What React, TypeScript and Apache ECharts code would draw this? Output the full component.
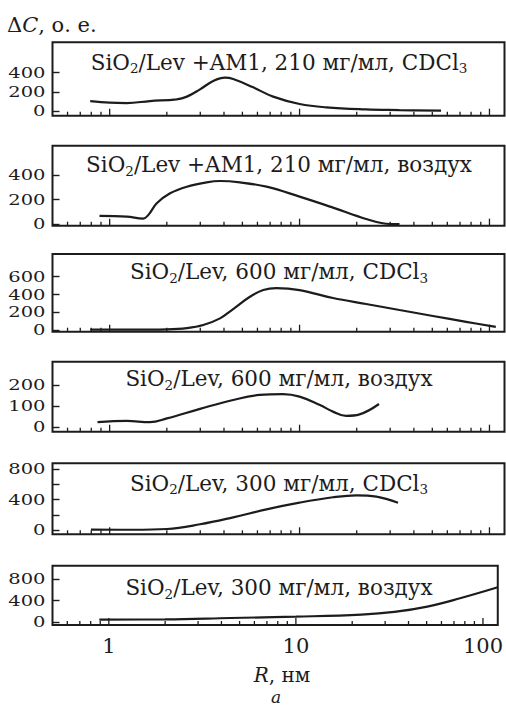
import React, { useEffect, useRef } from "react";
import * as echarts from "echarts";

// ---- data (R in nm, ΔC in a.u.) ----
const R1 = [0.79, 1.0, 1.23, 1.63, 2.25, 2.55, 2.99, 3.51, 4.05, 4.47, 5.7, 7.26, 10.0, 13.8, 22.4, 33.6, 55.6];
const C1 = [104, 87, 83, 104, 122, 150, 226, 313, 348, 334, 247, 150, 73, 38, 17, 10, 3];

const R2 = [0.884, 1.23, 1.5, 1.6, 1.77, 2.08, 2.55, 3.24, 3.81, 4.85, 6.7, 10, 15, 22.4, 27.4, 33.6];
const C2 = [68, 62, 46, 76, 170, 251, 305, 340, 351, 340, 305, 224, 135, 43, 8, 0];

const R3 = [0.79, 1.33, 2.0, 2.55, 3.11, 3.81, 4.47, 5.48, 6.44, 7.54, 10, 15, 22.4, 33.6, 50.4, 75.4, 108];
const C3 = [5, 4, 8, 22, 56, 131, 236, 375, 450, 472, 450, 360, 293, 225, 158, 92, 35];

const R4 = [0.863, 1.23, 1.63, 2.0, 2.99, 4.47, 6.17, 8.19, 10, 12.8, 15.0, 17.6, 20.7, 26.2];
const C4 = [24, 30, 24, 42, 87, 129, 153, 157, 145, 105, 74, 54, 61, 110];

const R5 = [0.797, 1.33, 2.0, 2.99, 4.47, 6.7, 10, 15, 19.9, 25.4, 33.0];
const C5 = [5, 3, 13, 75, 167, 272, 360, 431, 457, 440, 360];

const R6 = [0.89, 2.0, 4.47, 10, 22.4, 33.6, 50.4, 75.4, 120];
const C6 = [44, 50, 75, 100, 138, 188, 288, 444, 650];

const TITLES = [
  "SiO{s|2}/Lev +AM1, 210 мг/мл, CDCl{s|3}",
  "SiO{s|2}/Lev +AM1, 210 мг/мл, воздух",
  "SiO{s|2}/Lev, 600 мг/мл, CDCl{s|3}",
  "SiO{s|2}/Lev, 600 мг/мл, воздух",
  "SiO{s|2}/Lev, 300 мг/мл, CDCl{s|3}",
  "SiO{s|2}/Lev, 300 мг/мл, воздух",
];

const Y_TICKS = [
  [0, 200, 400],
  [0, 200, 400],
  [0, 200, 400, 600],
  [0, 100, 200],
  [0, 200, 400, 600, 800],
  [0, 400, 800],
];
const Y_LABELS = [
  [0, 200, 400],
  [0, 200, 400],
  [0, 200, 400, 600],
  [0, 100, 200],
  [0, 400, 800],
  [0, 400, 800],
];
const Y_MIN = [-49, -12, -19, -21, -57, -56];
const Y_MAX = [717, 638, 856, 310, 879, 1054];

const X_MIN = 0.5;
const X_MAX = 120;
const X_MAJOR = [1, 10, 100];
const X_TICKS = [
  0.6, 0.7, 0.8, 0.9, 1, 2, 3, 4, 5, 6, 7, 8, 9, 10, 20, 30, 40, 50, 60, 70, 80, 90, 100,
];

const SERIES_R = [R1, R2, R3, R4, R5, R6];
const SERIES_C = [C1, C2, C3, C4, C5, C6];

// ---- layout ----
const LAYOUT = [
  { top: 42.3, height: 73.4, titleY: 62 },
  { top: 145.7, height: 80, titleY: 164.5 },
  { top: 254, height: 77.7, titleY: 271.5 },
  { top: 361.7, height: 70, titleY: 378.5 },
  { top: 463.3, height: 71, titleY: 483 },
  { top: 565.7, height: 59.3, titleY: 587.5 },
];
const INK = "#1c1c1c";
const FONT = "DejaVu Serif";

export default function App() {
  const ref = useRef<HTMLDivElement>(null);
  useEffect(() => {
    if (!ref.current) return;
    const chart = echarts.init(ref.current, undefined, { renderer: "svg" });

    const grid = LAYOUT.map((l) => ({
      left: 52.5,
      width: 452,
      top: l.top,
      height: l.height,
      show: true,
      borderColor: INK,
      borderWidth: 2,
      backgroundColor: "transparent",
    }));

    const xAxis = LAYOUT.map((_, i) => ({
      type: "log",
      logBase: 10,
      gridIndex: i,
      min: X_MIN,
      max: X_MAX,
      axisLine: { show: false },
      axisTick: { show: false },
      splitLine: { show: false },
      axisLabel:
        i === LAYOUT.length - 1
          ? {
              show: true,
              fontFamily: FONT,
              fontSize: 21,
              color: INK,
              margin: 10,
              showMinLabel: false,
              showMaxLabel: false,
            }
          : { show: false },
    }));

    const yAxis = LAYOUT.map((_, i) => ({
      type: "value",
      gridIndex: i,
      min: Y_MIN[i],
      max: Y_MAX[i],
      axisLine: { show: false },
      splitLine: { show: false },
      axisTick: {
        show: true,
        inside: true,
        length: 7,
        customValues: Y_TICKS[i],
        lineStyle: { color: INK, width: 1.4 },
      },
      axisLabel: { show: false },
    }));

    const series: any[] = [];
    LAYOUT.forEach((_, i) => {
      series.push({
        type: "line",
        xAxisIndex: i,
        yAxisIndex: i,
        data: SERIES_R[i].map((r, j) => [r, SERIES_C[i][j]]),
        smooth: 0.4,
        showSymbol: false,
        symbol: "none",
        lineStyle: { color: INK, width: 2.2 },
      });
      // minor / major log ticks on the bottom edge
      series.push({
        type: "custom",
        xAxisIndex: i,
        yAxisIndex: i,
        silent: true,
        data: X_TICKS.map((v) => [v, Y_MIN[i]]),
        renderItem: (_p: any, api: any) => {
          const v = api.value(0);
          const pt = api.coord([v, api.value(1)]);
          const len = X_MAJOR.indexOf(v) >= 0 ? 7 : 4;
          return {
            type: "line",
            shape: { x1: pt[0], y1: pt[1], x2: pt[0], y2: pt[1] - len },
            style: { stroke: INK, lineWidth: 1.3 },
          };
        },
      });
      // y tick labels (wide, short digits, tightly stacked as in the reference)
      series.push({
        type: "custom",
        xAxisIndex: i,
        yAxisIndex: i,
        silent: true,
        clip: false,
        data: Y_LABELS[i].map((v) => [X_MIN, v]),
        renderItem: (_p: any, api: any) => {
          const pt = api.coord([api.value(0), api.value(1)]);
          return {
            type: "text",
            x: pt[0] - 7,
            y: pt[1],
            scaleX: 1.3,
            style: {
              text: String(api.value(1)),
              fontFamily: FONT,
              fontSize: 15,
              lineHeight: 14,
              fill: INK,
              align: "right",
              verticalAlign: "middle",
            },
          };
        },
      });
    });

    const graphic: any[] = LAYOUT.map((l, i) => ({
      type: "text",
      x: 279,
      y: l.titleY,
      style: {
        text: TITLES[i],
        fontFamily: FONT,
        fontSize: 21.5,
        lineHeight: 26,
        fill: INK,
        align: "center",
        verticalAlign: "middle",
        rich: {
          s: {
            fontFamily: FONT,
            fontSize: 13.5,
            lineHeight: 13,
            verticalAlign: "bottom",
            fill: INK,
          },
        },
      },
    }));
    graphic.push({
      type: "text",
      x: 7,
      y: 25,
      style: {
        text: "Δ{i|C}, о. е.",
        fontFamily: FONT,
        fontSize: 21,
        fill: INK,
        align: "left",
        verticalAlign: "middle",
        rich: { i: { fontFamily: FONT, fontSize: 21, fontStyle: "italic", fill: INK } },
      },
    });
    graphic.push({
      type: "text",
      x: 282,
      y: 675,
      style: {
        text: "{i|R}, нм",
        fontFamily: FONT,
        fontSize: 20,
        lineHeight: 16,
        fill: INK,
        align: "center",
        verticalAlign: "middle",
        rich: {
          i: { fontFamily: FONT, fontSize: 20, lineHeight: 16, fontStyle: "italic", fill: INK },
        },
      },
    });
    graphic.push({
      type: "text",
      x: 276,
      y: 696.5,
      style: {
        text: "a",
        fontFamily: FONT,
        fontSize: 17,
        lineHeight: 12,
        fontStyle: "italic",
        fill: INK,
        align: "center",
        verticalAlign: "middle",
      },
    });

    chart.setOption({
      animation: false,
      backgroundColor: "#ffffff",
      grid,
      xAxis,
      yAxis,
      series,
      graphic,
    });
    return () => chart.dispose();
  }, []);

  return (
    <div
      ref={ref}
      style={{ position: "fixed", left: 0, top: 0, width: 506, height: 706 }}
    />
  );
}
